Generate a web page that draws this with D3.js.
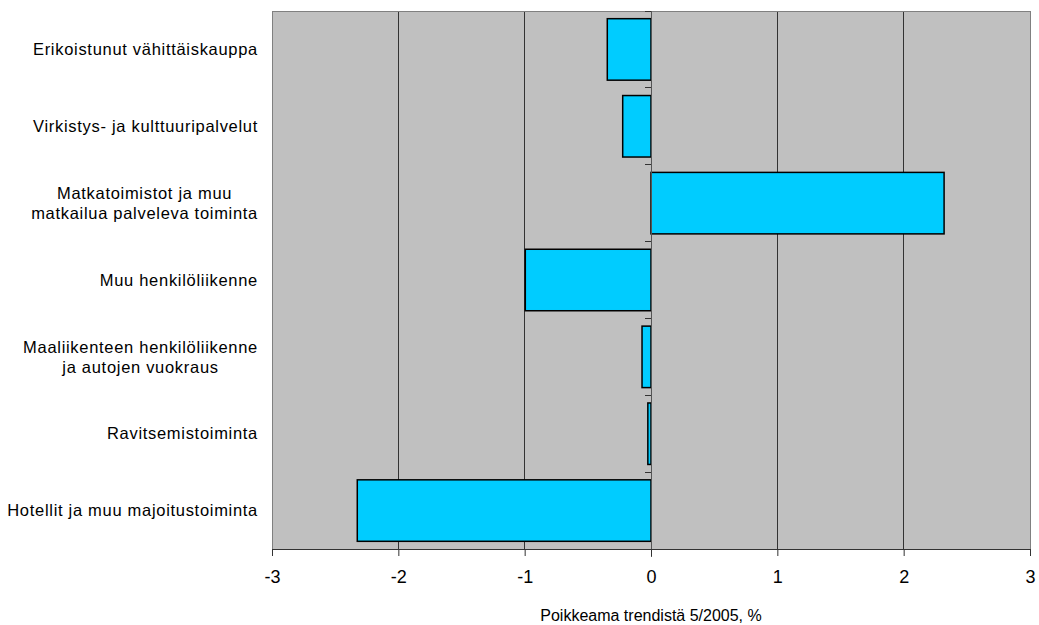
<!DOCTYPE html>
<html><head><meta charset="utf-8">
<script src="https://cdn.jsdelivr.net/npm/d3@7"></script>
<style>body{margin:0;background:#fff}svg{display:block;font-family:"Liberation Sans",Arial,sans-serif}</style>
</head><body><svg id="c" width="1039" height="625"></svg>
<script>
const categories = [
  ["Erikoistunut vähittäiskauppa"],
  ["Virkistys- ja kulttuuripalvelut"],
  ["Matkatoimistot ja muu","matkailua palveleva toiminta"],
  ["Muu henkilöliikenne"],
  ["Maaliikenteen henkilöliikenne","ja autojen vuokraus"],
  ["Ravitsemistoiminta"],
  ["Hotellit ja muu majoitustoiminta"]
];
const values = [-0.346, -0.224, 2.32, -0.995, -0.071, -0.025, -2.325];
const xTicks = [-3, -2, -1, 0, 1, 2, 3];
const xTitle = "Poikkeama trendistä 5/2005, %";

const svg = d3.select("#c");
const L = 272, R = 1030, T = 11, B = 549;
const x = d3.scaleLinear().domain([-3, 3]).range([L, R]);
const y = d3.scaleBand().domain(d3.range(categories.length)).range([T, B]).paddingInner(0.2).paddingOuter(0.1);

svg.append("rect").attr("x", L).attr("y", T).attr("width", R - L).attr("height", B - T)
  .attr("fill", "#c0c0c0");

// gridlines
svg.append("g").selectAll("line").data(xTicks.filter(d => d > -3 && d < 3)).join("line")
  .attr("x1", d => x(d)).attr("x2", d => x(d)).attr("y1", T).attr("y2", B)
  .attr("stroke", "#333").attr("stroke-width", 1).attr("shape-rendering", "crispEdges");

// border
svg.append("rect").attr("x", L).attr("y", T).attr("width", R - L).attr("height", B - T)
  .attr("fill", "none").attr("stroke", "#808080").attr("stroke-width", 1).attr("shape-rendering", "crispEdges");

// bars
svg.append("g").selectAll("rect").data(values).join("rect")
  .attr("x", d => Math.min(x(0), x(d)))
  .attr("width", d => Math.abs(x(d) - x(0)))
  .attr("y", (d, i) => y(i))
  .attr("height", y.bandwidth())
  .attr("fill", "#00ccff").attr("stroke", "#000").attr("stroke-width", 1.5);

// category axis at zero with ticks at band boundaries
const step = y.step();
const bounds = d3.range(categories.length + 1).map(i => T + i * step);
svg.append("line").attr("x1", x(0)).attr("x2", x(0)).attr("y1", T).attr("y2", B + 8)
  .attr("stroke", "#555").attr("stroke-width", 1).attr("shape-rendering", "crispEdges");
svg.append("g").selectAll("line").data(bounds).join("line")
  .attr("x1", x(0) - 6).attr("x2", x(0)).attr("y1", d => d).attr("y2", d => d)
  .attr("stroke", "#333").attr("shape-rendering", "crispEdges");

// x axis
const xAxis = d3.axisBottom(x).tickValues(xTicks).tickSize(7).tickPadding(14).tickFormat(d3.format("d"));
const gx = svg.append("g").attr("transform", `translate(0,${B})`).call(xAxis);
gx.select(".domain").attr("stroke", "#333");
gx.selectAll(".tick line").attr("stroke", "#333");
gx.selectAll("text").attr("font-size", 18).attr("fill", "#000")
  .attr("font-family", "Liberation Sans, Arial, sans-serif")
  .text(d => d < 0 ? "-" + Math.abs(d) : d);

svg.append("text").attr("x", x(0)).attr("y", 621).attr("text-anchor", "middle")
  .attr("font-size", 16).attr("fill", "#000").text(xTitle);

// category labels
const lab = svg.append("g");
categories.forEach((lines, i) => {
  const cy = y(i) + y.bandwidth() / 2;
  const lh = 20;
  const t = lab.append("text").attr("font-size", 16.5).attr("letter-spacing", 0.7)
    .attr("fill", "#000").attr("text-anchor", "middle");
  const spans = lines.map((s, j) => t.append("tspan").attr("x", 0)
    .attr("y", cy + (j - (lines.length - 1) / 2) * lh).attr("dy", "0.35em").text(s));
  const w = d3.max(spans, sp => sp.node().getComputedTextLength());
  spans.forEach(sp => sp.attr("x", 258 - w / 2));
});
</script></body></html>
